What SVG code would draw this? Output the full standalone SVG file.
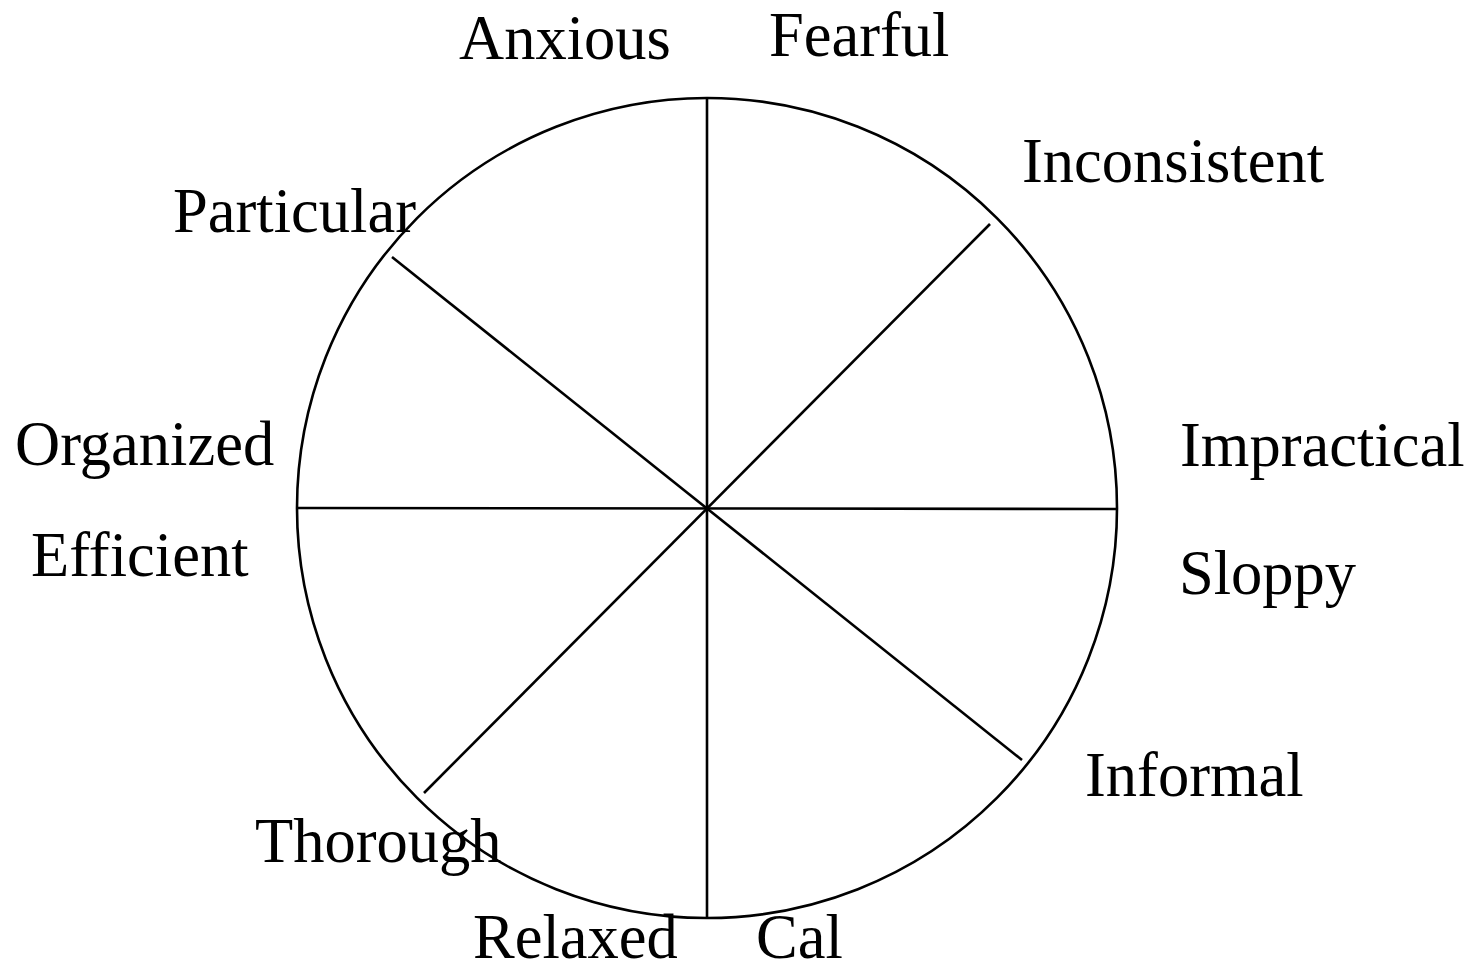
<svg xmlns="http://www.w3.org/2000/svg" width="1476" height="963" viewBox="0 0 1476 963">
<style>
.l{stroke:#000;stroke-width:2.6;fill:none}
text{font-family:"Liberation Serif","Times New Roman",serif;font-size:62.5px;fill:#000}
</style>
<rect width="1476" height="963" fill="#fff"/>
<g id="wheel">
<circle class="l" cx="707" cy="508" r="410"/>
</g>
<g id="connectors">
<line class="l" x1="707" y1="98" x2="707" y2="918"/>
<line class="l" x1="297" y1="508" x2="1117" y2="509"/>
<line class="l" x1="392" y1="257" x2="1022" y2="760"/>
<line class="l" x1="990" y1="224" x2="424" y2="793"/>
</g>
<g id="labels">
<text id="anxious" x="459" y="59">Anxious</text>
<text id="fearful" x="769" y="56">Fearful</text>
<text id="inconsistent" x="1022" y="182">Inconsistent</text>
<text id="particular" x="173" y="232">Particular</text>
<text id="organized" x="15" y="465">Organized</text>
<text id="impractical" x="1180" y="466">Impractical</text>
<text id="efficient" x="31" y="576">Efficient</text>
<text id="sloppy" x="1179" y="594">Sloppy</text>
<text id="informal" x="1085" y="796">Informal</text>
<text id="thorough" x="255" y="862">Thorough</text>
<text id="relaxed" x="473" y="958">Relaxed</text>
<text id="cal" x="756" y="958">Cal</text>
</g>
</svg>
